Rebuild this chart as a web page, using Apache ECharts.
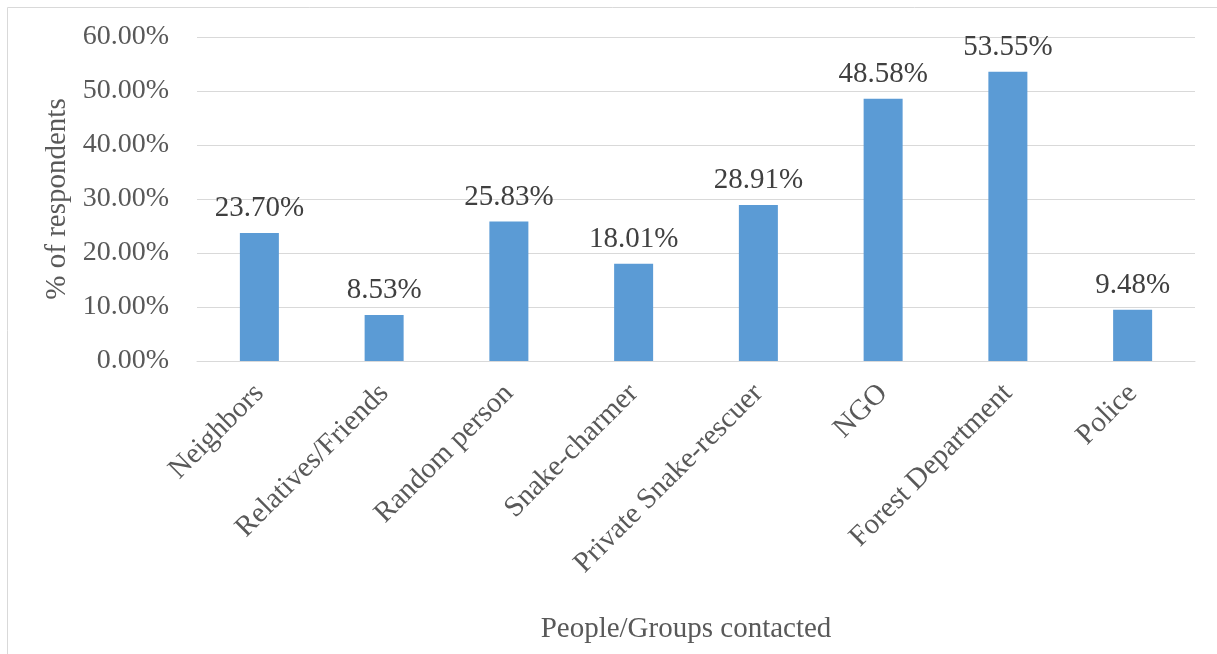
<!DOCTYPE html>
<html><head><meta charset="utf-8">
<script src="https://cdn.jsdelivr.net/npm/echarts@6/dist/echarts.min.js"></script>
<style>html,body{margin:0;padding:0;background:#fff}#c{width:1217px;height:654px}</style>
</head><body><div id="c"></div>
<script>
const categories = ["Neighbors","Relatives/Friends","Random person","Snake-charmer","Private Snake-rescuer","NGO","Forest Department","Police"];
const values = [23.70, 8.53, 25.83, 18.01, 28.91, 48.58, 53.55, 9.48];
const yTicks = [0, 10, 20, 30, 40, 50, 60];
const font = "Liberation Serif";
const chart = echarts.init(document.getElementById('c'));
chart.setOption({
  animation: false,
  graphic: [
    {type:'line', shape:{x1:7.5,y1:7.5,x2:1217,y2:7.5}, style:{stroke:'#d9d9d9',lineWidth:1}},
    {type:'line', shape:{x1:7.5,y1:7.5,x2:7.5,y2:654}, style:{stroke:'#d9d9d9',lineWidth:1}}
  ],
  grid: {left:197, right:22, top:37, bottom:293, containLabel:false},
  xAxis: {
    type:'category', data:categories,
    name:'People/Groups contacted', nameLocation:'middle', nameGap:254,
    nameTextStyle:{fontFamily:font,fontSize:29,color:'#595959',padding:[0,20,0,0]},
    axisLine:{lineStyle:{color:'#d9d9d9',width:1}},
    axisTick:{show:false},
    axisLabel:{rotate:45, interval:0, margin:28, fontFamily:font, fontSize:29, color:'#595959'}
  },
  yAxis: {
    type:'value', min:yTicks[0], max:yTicks[yTicks.length-1], interval:10,
    name:'% of respondents', nameLocation:'middle', nameGap:125, nameRotate:90,
    nameTextStyle:{fontFamily:font,fontSize:29,color:'#595959'},
    axisLine:{show:false}, axisTick:{show:false},
    splitLine:{lineStyle:{color:'#d9d9d9',width:1}},
    axisLabel:{margin:28, fontFamily:font, fontSize:28, color:'#595959', formatter:v=>v.toFixed(2)+'%'}
  },
  series:[{
    type:'bar', data:values, barWidth:39,
    itemStyle:{color:'#5b9bd5'},
    label:{show:true, position:'top', distance:10, fontFamily:font, fontSize:29, color:'#404040', formatter:p=>p.value.toFixed(2)+'%'}
  }]
});
</script></body></html>
